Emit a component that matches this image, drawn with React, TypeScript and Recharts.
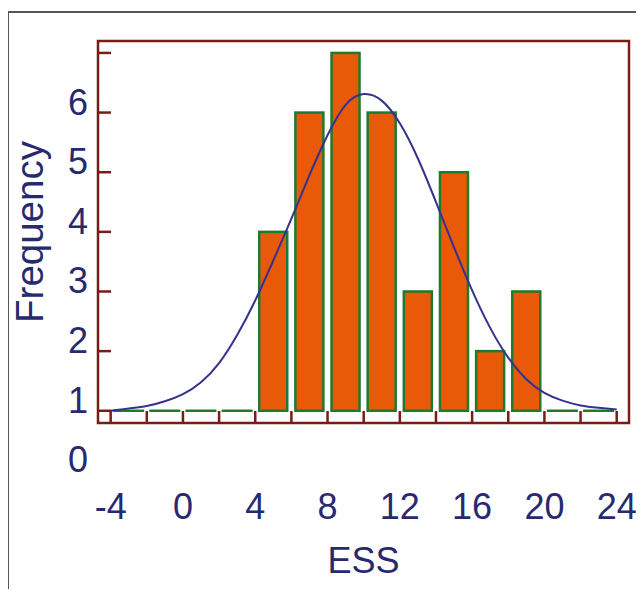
import React from 'react';
import { ComposedChart, Bar, Line, XAxis, YAxis, ReferenceArea } from 'recharts';

// ---- data ----
const binCenters = [-3, -1, 1, 3, 5, 7, 9, 11, 13, 15, 17, 19, 21, 23];
const binTops = [1, 1, 1, 1, 4, 6, 7, 6, 3, 5, 2, 3, 1, 1];
const baseLevel = 1;

const curveX = [-4, -3, -2, -1, 0, 1, 2, 3, 4, 5, 6, 7, 8, 9, 10, 11, 12, 13, 14, 15, 16, 17, 18, 19, 20, 21, 22, 23, 24];
const curveY = [1.0, 1.04, 1.08, 1.16, 1.28, 1.48, 1.8, 2.27, 2.85, 3.52, 4.22, 4.95, 5.62, 6.13, 6.31, 6.2, 5.82, 5.23, 4.5, 3.74, 3.02, 2.39, 1.89, 1.53, 1.3, 1.17, 1.09, 1.05, 1.02];

const xTicks = [-4, -2, 0, 2, 4, 6, 8, 10, 12, 14, 16, 18, 20, 22, 24];
const xLabelTicks = [-4, 0, 4, 8, 12, 16, 20, 24];
const yTicks = [0, 1, 2, 3, 4, 5, 6, 7];
const yLabelTicks = [0, 1, 2, 3, 4, 5, 6];
const yLineTicks = [1, 2, 3, 4, 5, 6, 7];

const X_DOMAIN: [number, number] = [-4.7, 24.68];
const Y_DOMAIN: [number, number] = [0.795, 7.2];

const barData = binCenters.map((x, i) => ({ x, range: [baseLevel, binTops[i]] }));
const curveData = curveX.map((x, i) => ({ x, d: curveY[i] }));

// ---- styles ----
const ORANGE = '#E85A08';
const GREEN = '#1E7A30';
const AXIS = '#7A1C16';
const NAVY = '#272A6E';
const CURVE = '#33338E';
const FONT = '"Liberation Sans", Arial, sans-serif';

const BarShape = (props: any) => {
  const { x, y, width, height } = props;
  const h = Math.abs(height || 0);
  const top = height < 0 ? y + height : y;
  if (h < 0.5) {
    return <line x1={x - 1.5} x2={x + width + 1.5} y1={y} y2={y} stroke={GREEN} strokeWidth={2.5} />;
  }
  return <rect x={x} y={top} width={width} height={h} fill={ORANGE} stroke={GREEN} strokeWidth={2.5} />;
};

const YTick = (props: any) => {
  const { x, y, payload } = props;
  const v = payload.value;
  return (
    <g>
      {yLineTicks.includes(v) && <line x1={x} x2={x + 13} y1={y} y2={y} stroke={AXIS} strokeWidth={2.5} />}
      {yLabelTicks.includes(v) && (
        <text x={x - 10} y={y + 2} textAnchor="end" fill={NAVY} fontSize={36} fontFamily={FONT}>
          {v}
        </text>
      )}
    </g>
  );
};

const XTick = (props: any) => {
  const { x, y, payload } = props;
  const v = payload.value;
  return (
    <g>
      <line x1={x} x2={x} y1={y} y2={y - 12} stroke={AXIS} strokeWidth={2.5} />
      {xLabelTicks.includes(v) && (
        <text x={x} y={y + 96} textAnchor="middle" fill={NAVY} fontSize={36} fontFamily={FONT}>
          {v}
        </text>
      )}
    </g>
  );
};

const YTitle = (props: any) => {
  const vb = props.viewBox || {};
  const cx = 35;
  const cy = (vb.y ?? 33) + (vb.height ?? 382) / 2;
  return (
    <text x={cx} y={cy} transform={`rotate(-90, ${cx}, ${cy})`} textAnchor="middle" fill={NAVY} fontSize={38.5} fontFamily={FONT}>
      Frequency
    </text>
  );
};

const XTitle = (props: any) => {
  const vb = props.viewBox || {};
  const cx = (vb.x ?? 90) + (vb.width ?? 531) / 2;
  const cy = (vb.y ?? 415) + 150;
  return (
    <text x={cx} y={cy} textAnchor="middle" fill={NAVY} fontSize={36} fontFamily={FONT}>
      ESS
    </text>
  );
};

export default function App() {
  return (
    <div style={{ position: 'relative', width: 628, height: 581 }}>
      <div
        style={{
          position: 'absolute',
          left: -1,
          top: 3,
          width: 635,
          height: 584,
          borderLeft: '2px solid #555555',
          borderTop: '2px solid #555555',
          boxSizing: 'content-box',
        }}
      />
      <div style={{ position: 'absolute', left: 0, top: 0 }}>
        <ComposedChart width={628} height={581} data={barData} margin={{ top: 33, right: 7, bottom: 0, left: 0 }}>
          <XAxis
            dataKey="x"
            type="number"
            domain={X_DOMAIN}
            ticks={xTicks}
            interval={0}
            height={166}
            tickSize={0}
            tickMargin={0}
            axisLine={false}
            tickLine={false}
            tick={<XTick />}
            label={<XTitle />}
          />
          <XAxis xAxisId="bins" dataKey="x" type="number" domain={X_DOMAIN} ticks={xTicks} hide />
          <YAxis
            type="number"
            domain={Y_DOMAIN}
            ticks={yTicks}
            interval={0}
            width={90}
            tickSize={0}
            tickMargin={0}
            axisLine={false}
            tickLine={false}
            tick={<YTick />}
            label={<YTitle />}
          />
          <Bar xAxisId="bins" dataKey="range" barSize={28} shape={<BarShape />} isAnimationActive={false} />
          <Line
            data={curveData}
            dataKey="d"
            type="natural"
            dot={false}
            activeDot={false}
            stroke={CURVE}
            strokeWidth={2}
            isAnimationActive={false}
          />
          <ReferenceArea
            x1={X_DOMAIN[0]}
            x2={X_DOMAIN[1]}
            y1={Y_DOMAIN[0]}
            y2={Y_DOMAIN[1]}
            fill="none"
            fillOpacity={0}
            stroke={AXIS}
            strokeWidth={2.5}
            ifOverflow="visible"
          />
        </ComposedChart>
      </div>
    </div>
  );
}
